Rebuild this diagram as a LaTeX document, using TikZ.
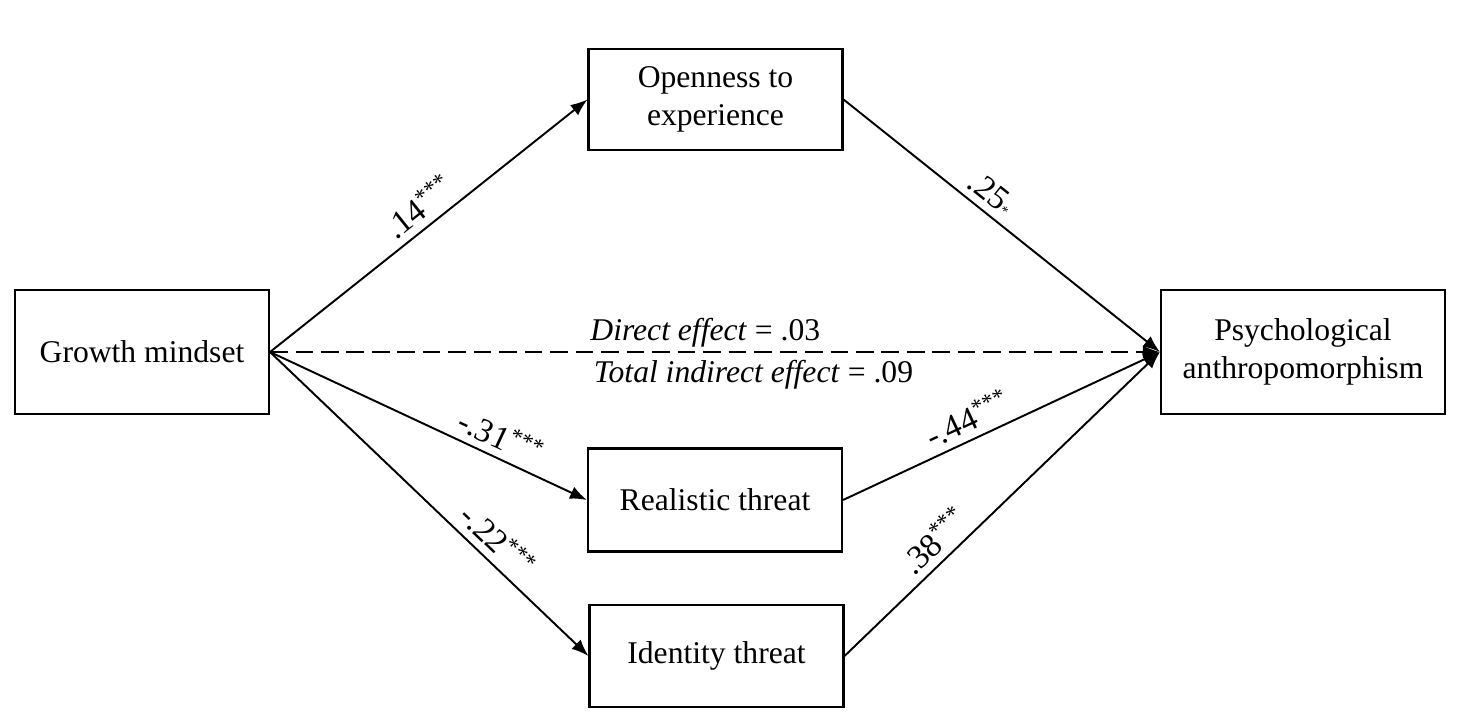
\documentclass[tikz,border=0pt]{standalone}
\usepackage{fontspec}
\setmainfont{Liberation Serif}
\usetikzlibrary{arrows.meta}

\begin{document}
\begin{tikzpicture}[x=0.02cm,y=-0.02cm,thick]
		\tikzset{box/.style = {draw, line width=1.2pt, align=center, minimum width=5.08cm, minimum height=2.48cm, font=\fontsize{18}{21.6}\selectfont}}
		\tikzset{conn/.style = {draw, line width=1.1pt, -{Latex[length=3.4mm,width=2.6mm]}}}
		\tikzset{weight/.style = {sloped, above, inner sep=4pt, font=\fontsize{19}{22}\selectfont}}
		
		\useasboundingbox (0,0) rectangle (1471,724);
		
		% nodes
		\node[box] (growth) at (142,352) {Growth mindset};
		\node[box, minimum height=2.02cm] (open) at (715.5,99.5) {Openness to\\experience};
		\node[box, minimum height=2.06cm] (real) at (715,500) {Realistic threat};
		\node[box, minimum height=2.04cm] (ident) at (716.5,656) {Identity threat};
		\node[box, minimum width=5.68cm] (anthro) at (1303,352) {Psychological\\anthropomorphism};
		
		% edges and weights
		\draw[conn] (growth.east) -- node[weight, pos=0.51]{.14\textsuperscript{***}} (open.west);
		\draw[conn] (growth.east) -- node[weight, pos=0.7]{-.31\textsuperscript{***}} (real.west);
		\draw[conn] (growth.east) -- node[weight, pos=0.67]{-.22\textsuperscript{***}} (ident.west);
		\draw[conn] (open.east) -- node[weight, pos=0.43]{.25{\footnotesize *}} (anthro.west);
		\draw[conn] (real.east) -- node[weight, pos=0.42]{-.44\textsuperscript{***}} (anthro.west);
		\draw[conn] (ident.east) -- node[weight, pos=0.33]{.38\textsuperscript{***}} (anthro.west);
		
		% direct path, dashed
		\draw[conn, dash pattern=on 10pt off 4.5pt] (growth.east) --
			node[pos=0.355, anchor=south west, inner sep=2pt, font=\fontsize{18}{21.6}\selectfont]{\textit{Direct effect} = .03}
			node[pos=0.355, anchor=north west, inner sep=4pt, font=\fontsize{18}{21.6}\selectfont]{\textit{Total indirect effect} = .09}
			(anthro.west);
		\end{tikzpicture}
\end{document}
